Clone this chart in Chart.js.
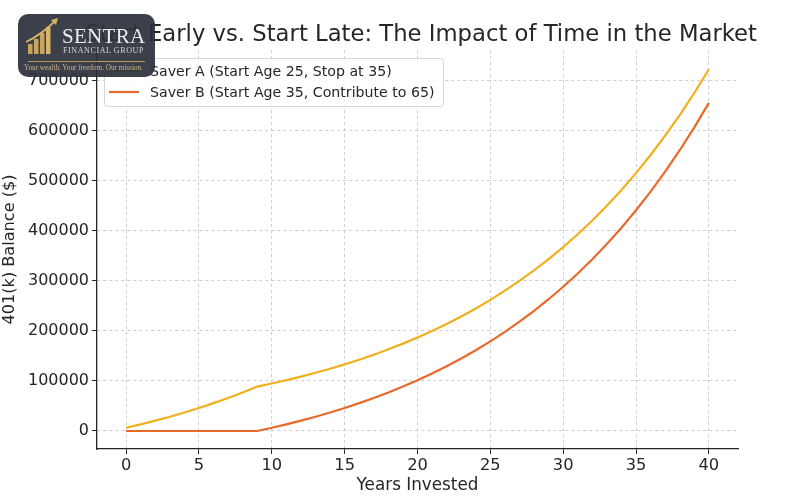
<!DOCTYPE html>
<html>
<head>
<meta charset="utf-8">
<script src="https://cdn.jsdelivr.net/npm/chart.js@4.4.1/dist/chart.umd.min.js"></script>
<style>
  html, body { margin: 0; padding: 0; background: #fff; }
  #wrap { position: relative; width: 800px; height: 500px; }
  #logo {
    position: absolute; left: 18px; top: 14px; width: 137px; height: 63px;
    border-radius: 10px; background: rgba(45, 50, 61, 0.93);
    font-family: "Liberation Serif", "DejaVu Serif", serif;
  }
  #logo svg { position: absolute; left: 8px; top: 4px; }
  #logo .nom { position: absolute; left: 44px; top: 10px; color: #ededed; font-size: 21px; letter-spacing: 0.3px; }
  #logo .sub { position: absolute; left: 45px; top: 32px; color: #d6d6d6; font-size: 8px; letter-spacing: 0.6px; }
  #logo .raya { position: absolute; left: 10px; top: 47px; width: 117px; height: 1px; background: #b89a5a; }
  #logo .lema { position: absolute; left: 6px; top: 50px; color: #c8b48a; font-size: 7.2px; white-space: nowrap; }
</style>
</head>
<body>
<div id="wrap">
  <canvas id="graficaSaver" width="800" height="500"></canvas>
  <div id="logo">
    <svg width="36" height="40" viewBox="0 0 36 40">
      <rect x="2" y="26" width="4.5" height="10" fill="#c9a45c"/>
      <rect x="8" y="21" width="4.5" height="15" fill="#c9a45c"/>
      <rect x="14" y="15" width="4.5" height="21" fill="#c9a45c"/>
      <rect x="20" y="9" width="4.5" height="27" fill="#d8b46a"/>
      <path d="M0 24 Q15 17 29 3" stroke="#d8b46a" stroke-width="1.8" fill="none"/>
      <path d="M25 2 L32 0 L30 7 Z" fill="#d8b46a"/>
    </svg>
    <div class="nom">SENTRA</div>
    <div class="sub">FINANCIAL GROUP</div>
    <div class="raya"></div>
    <div class="lema">Your wealth. Your freedom. Our mission.</div>
  </div>
</div>
<script>
// datos
const anios = [0,1,2,3,4,5,6,7,8,9,10,11,12,13,14,15,16,17,18,19,20,21,22,23,24,25,26,27,28,29,30,31,32,33,34,35,36,37,38,39,40];
const saverA = [6400,13300,20600,28500,36900,45900,55600,65900,76900,88700,
  94900,101600,108700,116300,124400,133100,142400,152400,163100,174500,
  186700,199800,213800,228700,244700,261900,280200,299800,320800,343200,
  367300,393000,420500,449900,481400,515100,551200,589800,631000,675200,722500];
const saverB = [0,0,0,0,0,0,0,0,0,0,
  6400,13300,20600,28500,36900,45900,55600,65900,76900,88700,
  101300,114800,129300,144800,161300,179000,198000,218300,240000,263200,
  288000,314600,343100,373500,406100,440900,478200,518100,560800,606400,655300];
const etiquetas = ['Saver A (Start Age 25, Stop at 35)', 'Saver B (Start Age 35, Contribute to 65)'];
const colores = ['#f0b01e', '#e8692a'];
const ticksX = [0,5,10,15,20,25,30,35,40];
const ticksY = [0,100000,200000,300000,400000,500000,600000,700000];
const titulo = 'Start Early vs. Start Late: The Impact of Time in the Market';

const fuente = 'DejaVu Sans';
const oscuro = '#262626';

// tamaño de letra para que un texto ocupe el ancho que tiene en la imagen
const medidor = document.createElement('canvas').getContext('2d');
function tamano(texto, ancho) {
  medidor.font = '100px "' + fuente + '"';
  return 100 * ancho / medidor.measureText(texto).width;
}
const tamTickY = tamano('500000', 61);
const tamTickX = tamano('20', 20.7);
const tamTitX = tamano('Years Invested', 122);
const tamTitY = tamano('401(k) Balance ($)', 150);
const tamLeyenda = tamano(etiquetas[0], 242);

// titulo: el texto de la imagen original esta algo comprimido a lo ancho
const tituloPlugin = {
  id: 'tituloAncho',
  afterDraw(chart) {
    const ctx = chart.ctx;
    ctx.save();
    ctx.font = '23px "' + fuente + '"';
    const total = ctx.measureText(titulo).width;
    const prefijo = ctx.measureText('Start ').width;
    const sx = 609 / (total - prefijo);
    const ancho = total * sx;
    ctx.translate(757 - ancho, 35);
    ctx.scale(sx, 1);
    ctx.fillStyle = oscuro;
    ctx.textBaseline = 'middle';
    ctx.textAlign = 'left';
    ctx.fillText(titulo, 0, 0);
    ctx.restore();
  }
};

// leyenda dentro del area, estilo matplotlib
const leyendaPlugin = {
  id: 'leyendaDentro',
  afterDraw(chart) {
    const ctx = chart.ctx;
    const x0 = 104, y0 = 58, w = 339, h = 48;
    ctx.save();
    ctx.fillStyle = 'rgba(255,255,255,0.85)';
    ctx.strokeStyle = '#d6d6d6';
    ctx.lineWidth = 1;
    ctx.beginPath();
    ctx.roundRect(x0 + 0.5, y0 + 0.5, w, h, 3);
    ctx.fill();
    ctx.stroke();
    ctx.font = tamLeyenda.toFixed(2) + 'px "' + fuente + '"';
    ctx.textBaseline = 'middle';
    chart.data.datasets.forEach((ds, i) => {
      const yy = y0 + 13 + i * 21;
      ctx.strokeStyle = ds.borderColor;
      ctx.lineWidth = 2.2;
      ctx.beginPath();
      ctx.moveTo(x0 + 5, yy);
      ctx.lineTo(x0 + 35, yy);
      ctx.stroke();
      ctx.fillStyle = oscuro;
      ctx.fillText(ds.label, x0 + 46, yy + 1);
    });
    ctx.restore();
  }
};

const grafica = document.getElementById('graficaSaver').getContext('2d');

new Chart(grafica, {
  type: 'line',
  data: {
    labels: anios,
    datasets: [
      { label: etiquetas[0], data: anios.map((a, i) => ({ x: a, y: saverA[i] })), borderColor: colores[0], borderWidth: 2.2, pointRadius: 0, tension: 0 },
      { label: etiquetas[1], data: anios.map((a, i) => ({ x: a, y: saverB[i] })), borderColor: colores[1], borderWidth: 2.2, pointRadius: 0, tension: 0 }
    ]
  },
  options: {
    responsive: false,
    animation: false,
    layout: { padding: { left: 0, right: 62, top: 50, bottom: 4 } },
    plugins: {
      legend: { display: false },
      tooltip: { enabled: false },
      title: { display: false }
    },
    scales: {
      x: {
        type: 'linear',
        min: -2,
        max: 42,
        afterBuildTicks(scale) { scale.ticks = ticksX.map(v => ({ value: v })); },
        afterFit(scale) { scale.height = 47; },
        ticks: { color: oscuro, font: { size: tamTickX, family: fuente }, padding: 2, maxRotation: 0 },
        grid: { color: '#cfcfcf', tickColor: oscuro, tickLength: 5, tickBorderDash: [] },
        border: { display: true, color: oscuro, width: 1.3, dash: [3, 3] },
        title: { display: true, text: 'Years Invested', color: oscuro, font: { size: tamTitX, family: fuente }, padding: { top: 0, bottom: 0 } }
      },
      y: {
        min: -36000,
        max: 761000,
        afterBuildTicks(scale) { scale.ticks = ticksY.map(v => ({ value: v })); },
        afterFit(scale) { scale.width = 97; },
        ticks: { color: oscuro, font: { size: tamTickY, family: fuente }, padding: 3, callback: v => String(v) },
        grid: { color: '#cfcfcf', tickColor: oscuro, tickLength: 5, tickBorderDash: [] },
        border: { display: true, color: oscuro, width: 1.3, dash: [3, 3] },
        title: { display: true, text: '401(k) Balance ($)', color: oscuro, font: { size: tamTitY, family: fuente }, padding: { top: 0, bottom: 0 } }
      }
    }
  },
  plugins: [tituloPlugin, leyendaPlugin]
});
</script>
</body>
</html>
